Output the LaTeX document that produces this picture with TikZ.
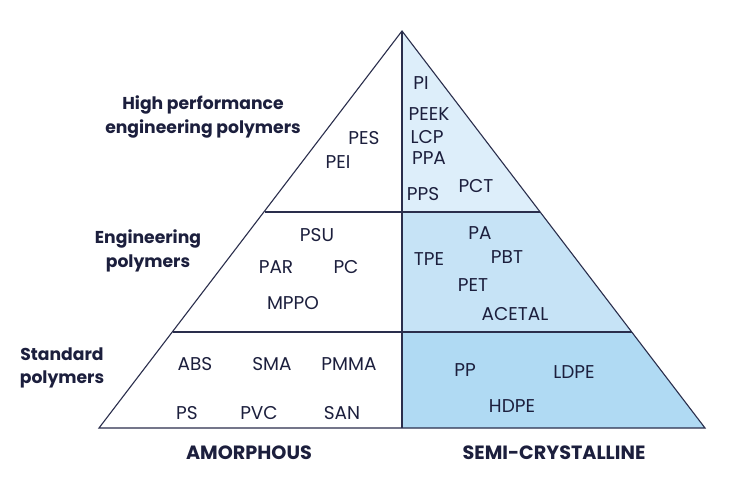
\documentclass[tikz,border=0pt]{standalone}
\usepackage{fontspec}
\setmainfont{Poppins}
\definecolor{ink}{HTML}{1C1F3D}
\definecolor{edge}{HTML}{2A2E4C}
\definecolor{fillA}{HTML}{DDEEFA}
\definecolor{fillB}{HTML}{C6E3F6}
\definecolor{fillC}{HTML}{B0DAF3}
\tikzset{
  poly/.style={font=\fontsize{18.5}{20}\selectfont, text=ink, inner sep=0pt, anchor=center},
  tier/.style={font=\fontsize{17.2}{23.5}\bfseries\selectfont, text=ink, align=center, inner sep=0pt, anchor=center},
  axislab/.style={font=\fontsize{19.2}{22}\bfseries\selectfont, text=ink, inner sep=0pt, anchor=center},
  frame/.style={draw=edge, line width=1.1pt, line join=miter}
}
\begin{document}
\begin{tikzpicture}[x=1pt,y=-1pt]
\useasboundingbox (0,0) rectangle (741,486);
\fill[white] (0,0) rectangle (741,486);
% coordinates
\coordinate (apex) at (402,31);
\coordinate (bl) at (99,428);
\coordinate (br) at (705,428);
\coordinate (bm) at (402,428);
\coordinate (l1) at (264.5,212);
\coordinate (m1) at (402,212);
\coordinate (r1) at (540.1,212);
\coordinate (l2) at (173,332);
\coordinate (m2) at (402,332);
\coordinate (r2) at (631.7,332);
% fills
\fill[fillA] (apex) -- (r1) -- (m1) -- cycle;
\fill[fillB] (m1) -- (r1) -- (r2) -- (m2) -- cycle;
\fill[fillC] (m2) -- (r2) -- (br) -- (bm) -- cycle;
% outline
\draw[frame] (apex) -- (bl) -- (br) -- cycle;
\draw[frame] (apex) -- (bm);
\draw[frame] (l1) -- (r1);
\draw[frame] (l2) -- (r2);
% tier labels
\node[tier] (hp) at (203,117) {High performance\\engineering polymers};
\node[tier] (eng) at (148,251) {Engineering\\polymers};
\node[tier] (std) at (62,368) {Standard\\polymers};
% top
\node[poly] (pes) at (364,138) {PES};
\node[poly] (pei) at (338,162) {PEI};
\node[poly] (pi) at (421,83) {PI};
\node[poly] (peek) at (429,114) {PEEK};
\node[poly] (lcp) at (427,137) {LCP};
\node[poly] (ppa) at (429,158) {PPA};
\node[poly] (pps) at (423,194) {PPS};
\node[poly] (pct) at (476,186) {PCT};
% middle
\node[poly] (psu) at (317,235) {PSU};
\node[poly] (par) at (276,267) {PAR};
\node[poly] (pc) at (346,267) {PC};
\node[poly] (mppo) at (293,303) {MPPO};
\node[poly] (pa) at (480,233) {PA};
\node[poly] (tpe) at (429,259) {TPE};
\node[poly] (pbt) at (507,257) {PBT};
\node[poly] (pet) at (473,285) {PET};
\node[poly] (acetal) at (515,314) {ACETAL};
% bottom
\node[poly] (abs) at (195,364) {ABS};
\node[poly] (sma) at (272,364) {SMA};
\node[poly] (pmma) at (349,364) {PMMA};
\node[poly] (ps) at (187,413) {PS};
\node[poly] (pvc) at (259,413) {PVC};
\node[poly] (san) at (342,413) {SAN};
\node[poly] (pp) at (465,370) {PP};
\node[poly] (ldpe) at (574,372) {LDPE};
\node[poly] (hdpe) at (512,406) {HDPE};
% axis labels
\node[axislab] (amor) at (249,453) {AMORPHOUS};
\node[axislab] (semi) at (554,453) {SEMI-CRYSTALLINE};
\end{tikzpicture}
\end{document}
